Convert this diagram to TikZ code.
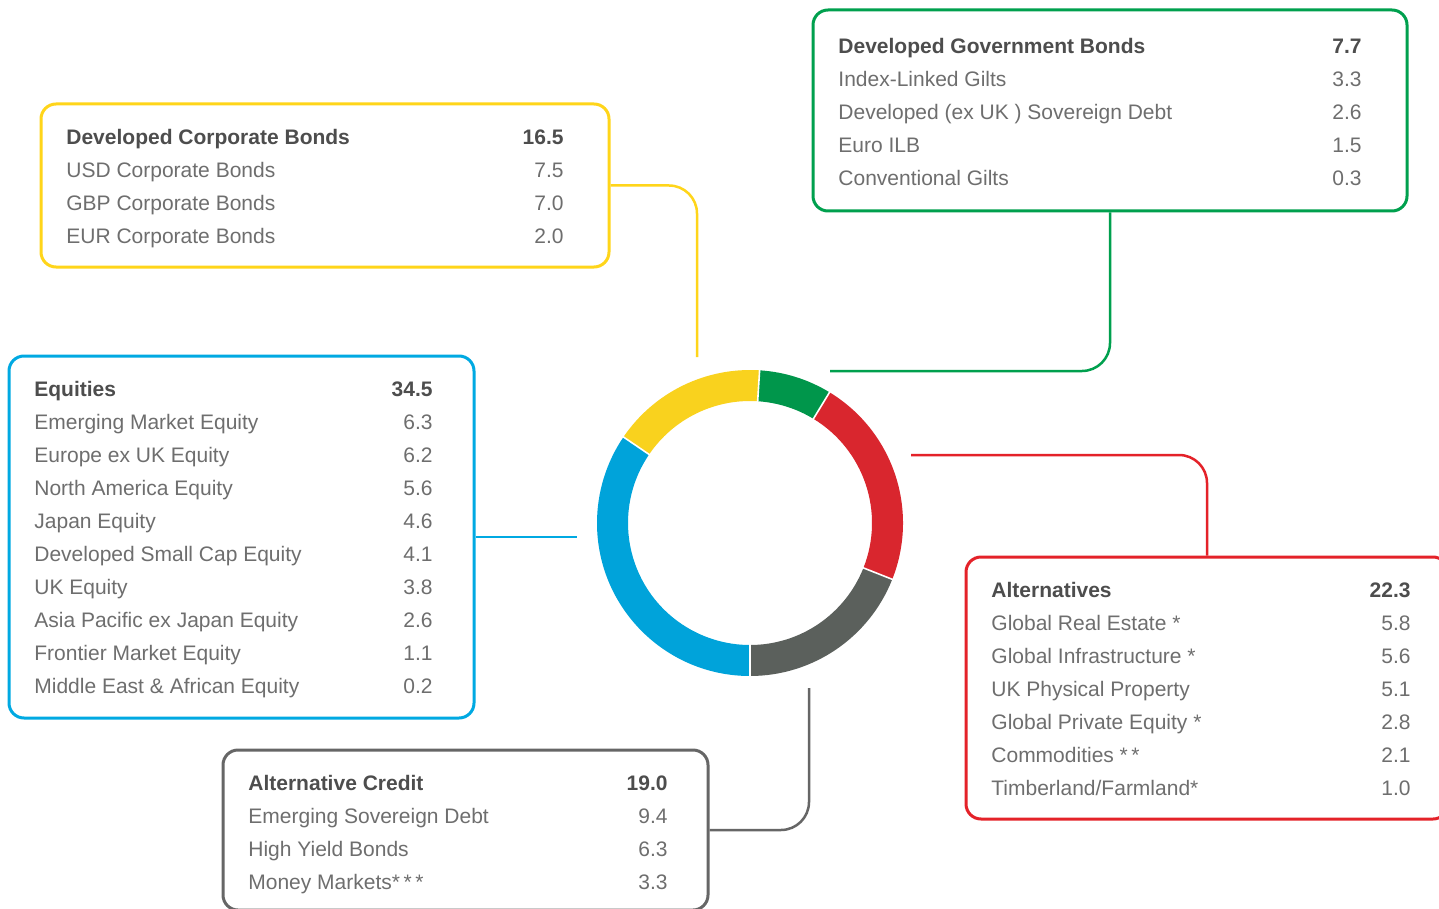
\documentclass[tikz,border=0pt]{standalone}
\usepackage{fontspec}
\setmainfont{Liberation Sans}
\definecolor{cYel}{HTML}{F9D21E}
\definecolor{cGrn}{HTML}{00964B}
\definecolor{cRed}{HTML}{D9262E}
\definecolor{cGry}{HTML}{5B605C}
\definecolor{cBlu}{HTML}{00A3DA}
\definecolor{lYel}{HTML}{FFD51A}
\definecolor{lGrn}{HTML}{00A04E}
\definecolor{lRed}{HTML}{E42229}
\definecolor{lBlu}{HTML}{00A9E2}
\definecolor{lGry}{HTML}{666666}
\definecolor{tHead}{HTML}{4D4D4D}
\definecolor{tItem}{HTML}{6E6E6E}
\tikzset{
  panel/.style={draw=#1, line width=1.5pt, rounded corners=7.5pt, fill=none, inner sep=0pt},
  link/.style={draw=#1, line width=1.25pt, rounded corners=14pt},
  hd/.style={font=\fontsize{10.5}{12}\selectfont\bfseries, text=tHead, inner sep=0pt},
  it/.style={font=\fontsize{10.5}{12}\selectfont, text=tItem, inner sep=0pt},
}
\newcommand\headrow[5]{%
  \node[hd, anchor=base west] (#1l) at (#2,#4+7.5) {#5};}
\newcommand\headval[4]{%
  \node[hd, anchor=base east] (#1r) at (#2,#3+7.5) {#4};}
\newcommand\rowitem[6]{%
  \node[it, anchor=base west] (#1l) at (#2,#4+7.5) {#5};
  \node[it, anchor=base east] (#1r) at (#3,#4+7.5) {#6};}
\begin{document}
\begin{tikzpicture}[x=0.5pt, y=-0.5pt]
\useasboundingbox (0,0) rectangle (1439,909);
\clip (0,0) rectangle (1439,909);
\fill[white] (0,0) rectangle (1439,909);

% ---------- ring ----------
\coordinate (C) at (750,523);
\begin{scope}[shift={(C)}, x=0.5pt, y=0.5pt]
  \def\ro{76.5pt}\def\ri{61pt}
  \fill[cGrn] (86.4:\ro) arc[start angle=86.4, end angle=58.68, radius=\ro] -- (58.68:\ri) arc[start angle=58.68, end angle=86.4, radius=\ri] -- cycle;
  \fill[cRed] (58.68:\ro) arc[start angle=58.68, end angle=-21.6, radius=\ro] -- (-21.6:\ri) arc[start angle=-21.6, end angle=58.68, radius=\ri] -- cycle;
  \fill[cGry] (-21.6:\ro) arc[start angle=-21.6, end angle=-90, radius=\ro] -- (-90:\ri) arc[start angle=-90, end angle=-21.6, radius=\ri] -- cycle;
  \fill[cBlu] (-90:\ro) arc[start angle=-90, end angle=-214.2, radius=\ro] -- (-214.2:\ri) arc[start angle=-214.2, end angle=-90, radius=\ri] -- cycle;
  \fill[cYel] (145.8:\ro) arc[start angle=145.8, end angle=86.4, radius=\ro] -- (86.4:\ri) arc[start angle=86.4, end angle=145.8, radius=\ri] -- cycle;
  \foreach \a in {86.4,58.68,-21.6,-90,145.8}
    \draw[white, line width=0.8pt] (\a:59pt) -- (\a:78pt);
\end{scope}

% ---------- panels ----------
\node[panel=lYel, minimum width=284pt, minimum height=81.5pt] (bY) at (325,185.5) {};
\node[panel=lGrn, minimum width=297pt, minimum height=100.5pt] (bG) at (1110,110.5) {};
\node[panel=lBlu, minimum width=232.5pt, minimum height=181pt] (bB) at (241.5,537) {};
\node[panel=lRed, minimum width=241pt, minimum height=131pt] (bR) at (1207,688) {};
\node[panel=lGry, minimum width=242.5pt, minimum height=80pt] (bK) at (465.5,830) {};

% ---------- connector ends ----------
\coordinate (yE) at (697,357);
\coordinate (gE) at (830,371);
\coordinate (rE) at (911,455);
\coordinate (uE) at (577,537);
\coordinate (kE) at (809,688);

\draw[link=lYel] (bY.east) -| (yE);
\draw[link=lGrn] (bG.south) |- (gE);
\draw[link=lRed] (bR.north) |- (rE);
\draw[link=lBlu] (bB.east) -- (bB.east -| uE);
\draw[link=lGry] (bK.east) -| (kE);

% ---------- yellow text ----------
\headrow{y0}{66}{564}{137}{Developed Corporate Bonds}
\headval{y0}{564}{137}{16.5}
\rowitem{y1}{66}{564}{170}{USD Corporate Bonds}{7.5}
\rowitem{y2}{66}{564}{203}{GBP Corporate Bonds}{7.0}
\rowitem{y3}{66}{564}{236}{EUR Corporate Bonds}{2.0}

% ---------- green text ----------
\headrow{g0}{838}{1362}{46}{Developed Government Bonds}
\headval{g0}{1362}{46}{7.7}
\rowitem{g1}{838}{1362}{79}{Index-Linked Gilts}{3.3}
\rowitem{g2}{838}{1362}{112}{Developed (ex UK ) Sovereign Debt}{2.6}
\rowitem{g3}{838}{1362}{145}{Euro ILB}{1.5}
\rowitem{g4}{838}{1362}{178}{Conventional Gilts}{0.3}

% ---------- blue text ----------
\headrow{b0}{34}{433}{389}{Equities}
\headval{b0}{433}{389}{34.5}
\rowitem{b1}{34}{433}{422}{Emerging Market Equity}{6.3}
\rowitem{b2}{34}{433}{455}{Europe ex UK Equity}{6.2}
\rowitem{b3}{34}{433}{488}{North America Equity}{5.6}
\rowitem{b4}{34}{433}{521}{Japan Equity}{4.6}
\rowitem{b5}{34}{433}{554}{Developed Small Cap Equity}{4.1}
\rowitem{b6}{34}{433}{587}{UK Equity}{3.8}
\rowitem{b7}{34}{433}{620}{Asia Pacific ex Japan Equity}{2.6}
\rowitem{b8}{34}{433}{653}{Frontier Market Equity}{1.1}
\rowitem{b9}{34}{433}{686}{Middle East \& African Equity}{0.2}

% ---------- red text ----------
\headrow{r0}{991}{1411}{590}{Alternatives}
\headval{r0}{1411}{590}{22.3}
\rowitem{r1}{991}{1411}{623}{Global Real Estate *}{5.8}
\rowitem{r2}{991}{1411}{656}{Global Infrastructure *}{5.6}
\rowitem{r3}{991}{1411}{689}{UK Physical Property}{5.1}
\rowitem{r4}{991}{1411}{722}{Global Private Equity *}{2.8}
\rowitem{r5}{991}{1411}{755}{Commodities *\,*}{2.1}
\rowitem{r6}{991}{1411}{788}{Timberland/Farmland*}{1.0}

% ---------- grey text ----------
\headrow{k0}{248}{668}{783}{Alternative Credit}
\headval{k0}{668}{783}{19.0}
\rowitem{k1}{248}{668}{816}{Emerging Sovereign Debt}{9.4}
\rowitem{k2}{248}{668}{849}{High Yield Bonds}{6.3}
\rowitem{k3}{248}{668}{882}{Money Markets*\,*\,*}{3.3}
\end{tikzpicture}
\end{document}
